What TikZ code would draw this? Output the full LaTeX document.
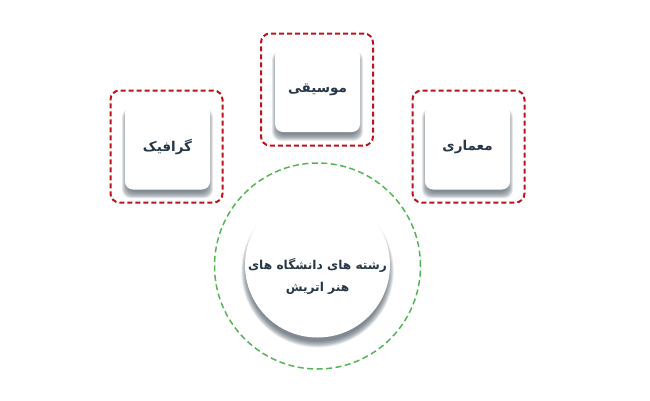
\documentclass[tikz,border=0pt]{standalone}
\usepackage{fontspec}
\newfontfamily\arabicfont[Script=Arabic]{DejaVu Sans}
\TeXXeTstate=1
\usetikzlibrary{shadows}
\definecolor{dred}{HTML}{C0101A}
\definecolor{dgreen}{HTML}{55B555}
\definecolor{txt}{HTML}{263747}
\definecolor{shd}{HTML}{3E4C58}
\begin{document}
\begin{tikzpicture}[x=1pt,y=-1pt,
  frame/.style={draw=dred, line width=2pt, dash pattern=on 5pt off 3pt,
    rounded corners=9pt, minimum width=112pt, minimum height=112pt},
  sl/.style 2 args={general shadow={fill=shd, opacity=0.11, shadow yshift=#2, shadow scale=#1}},
  cardshadow/.style={sl={1.07}{-5.5pt}, sl={1.055}{-5.5pt}, sl={1.04}{-5.5pt}, sl={1.025}{-5.5pt},
    sl={1.01}{-5.5pt}, sl={0.99}{-5.5pt}, sl={0.97}{-5.5pt}, sl={0.95}{-5.5pt}, sl={0.93}{-5.5pt}},
  discshadow/.style={sl={1.05}{-6pt}, sl={1.04}{-6pt}, sl={1.03}{-6pt}, sl={1.02}{-6pt},
    sl={1.01}{-6pt}, sl={1.0}{-6pt}, sl={0.99}{-6pt}, sl={0.98}{-6pt}, sl={0.97}{-6pt}},
  card/.style={fill=white, rounded corners=8pt, minimum width=85pt, minimum height=84pt,
    cardshadow, font=\arabicfont\bfseries\fontsize{13.5}{16}\selectfont, text=txt},
  ring/.style={circle, draw=dgreen, line width=1.5pt, dash pattern=on 6pt off 3.5pt,
    minimum size=206pt},
  disc/.style={circle, fill=white, minimum size=145pt, discshadow},
  label/.style={font=\arabicfont\bfseries\fontsize{12.2}{22}\selectfont, text=txt, align=center}
]
\useasboundingbox (0,0) rectangle (650,400);
% frames
\node[frame] (ftop) at (317,89.5) {};
\node[frame] (fleft) at (166.5,146.5) {};
\node[frame] (fright) at (468.5,146.5) {};
% cards
\node[card] (music) at (317.5,90) {\beginR موسیقی\endR};
\node[card] (graphic) at (167.5,147.5) {\beginR گرافیک\endR};
\node[card] (arch) at (467.5,147.5) {\beginR معماری\endR};
% circle
\node[ring] (ring) at (317.5,266) {};
\node[disc] (disc) at (317.5,265) {};
\node[label] (title) at (317.5,276) {\beginR رشته های دانشگاه های\endR\\\beginR هنر اتریش\endR};
\end{tikzpicture}
\end{document}
